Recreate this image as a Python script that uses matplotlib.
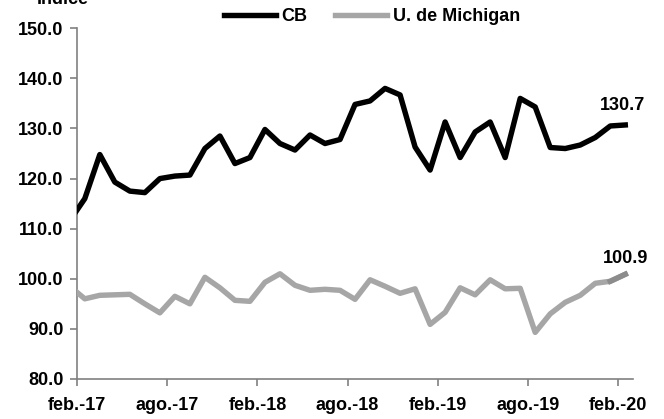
import matplotlib.pyplot as plt
import numpy as np

# monthly values, jan-17 .. feb-20 (jan-17 sits just left of the axis)
months = ['ene.-17', 'feb.-17', 'mar.-17', 'abr.-17', 'may.-17', 'jun.-17', 'jul.-17', 'ago.-17',
          'sep.-17', 'oct.-17', 'nov.-17', 'dic.-17', 'ene.-18', 'feb.-18', 'mar.-18', 'abr.-18',
          'may.-18', 'jun.-18', 'jul.-18', 'ago.-18', 'sep.-18', 'oct.-18', 'nov.-18', 'dic.-18',
          'ene.-19', 'feb.-19', 'mar.-19', 'abr.-19', 'may.-19', 'jun.-19', 'jul.-19', 'ago.-19',
          'sep.-19', 'oct.-19', 'nov.-19', 'dic.-19', 'ene.-20', 'feb.-20']
cb = [111.6, 116.0, 124.8, 119.3, 117.5, 117.2, 120.0, 120.5, 120.7, 126.0, 128.5, 123.0, 124.2,
      129.8, 127.0, 125.7, 128.7, 127.0, 127.8, 134.8, 135.5, 138.0, 136.7, 126.3, 121.7, 131.3,
      124.2, 129.3, 131.3, 124.2, 136.0, 134.3, 126.2, 126.0, 126.7, 128.2, 130.5, 130.7]
umich = [98.5, 96.0, 96.7, 96.8, 96.9, 95.0, 93.2, 96.5, 95.0, 100.3, 98.2, 95.7, 95.5,
         99.3, 101.0, 98.7, 97.7, 97.9, 97.7, 95.9, 99.8, 98.5, 97.1, 98.0, 90.9, 93.3,
         98.2, 96.8, 99.8, 98.0, 98.1, 89.3, 93.0, 95.3, 96.7, 99.1, 99.5, 100.9]
tick_labels = ['feb.-17', 'ago.-17', 'feb.-18', 'ago.-18', 'feb.-19', 'ago.-19', 'feb.-20']

plt.rcParams['font.family'] = ['Liberation Sans Narrow', 'Liberation Sans', 'DejaVu Sans']
plt.rcParams['font.weight'] = 'bold'
fs = 13

x = np.arange(len(months)) - 0.5   # points centred in their month

fig = plt.figure(figsize=(6.64, 4.19), dpi=100)
ax = fig.add_axes([0.1164, 0.0955, 0.8366, 0.837])

ax.plot(x, cb, color='black', lw=3.9, label='CB', zorder=3)
ax.plot(x, umich, color='#a6a6a6', lw=3.9, label='U. de Michigan', zorder=3)
ax.plot(x[-2:], umich[-2:], color='#8c8c8c', lw=3.9, zorder=4)

ax.set_xlim(0, 37)
ax.set_ylim(80, 150)
ax.set_yticks(np.arange(80, 151, 10))
ax.set_yticklabels(['%.1f' % v for v in np.arange(80, 151, 10)])
ax.set_xticks(np.arange(0, 37, 6))
ax.set_xticklabels(tick_labels)

for side in ['top', 'right']:
    ax.spines[side].set_visible(False)
for side in ['left', 'bottom']:
    ax.spines[side].set_color('#808080')
    ax.spines[side].set_linewidth(1.2)
ax.tick_params(axis='both', colors='#808080', labelcolor='black', labelsize=fs,
               length=5, width=1.2, direction='out')
ax.tick_params(axis='x', pad=8)
ax.tick_params(axis='y', pad=5)

ax.annotate('%.1f' % cb[-1], (x[-1], cb[-1]), xytext=(-2, 8), textcoords='offset points',
            ha='center', va='bottom', fontsize=fs, fontweight='bold')
ax.annotate('%.1f' % umich[-1], (x[-1], umich[-1]), xytext=(0, 5), textcoords='offset points',
            ha='center', va='bottom', fontsize=fs, fontweight='bold')

fig.text(0.055, 1.0, 'Índice', ha='left', va='center', fontsize=fs, fontweight='bold')

fig.legend(loc='center', bbox_to_anchor=(0.56, 0.96), ncol=2, frameon=False,
           fontsize=fs, handlelength=2.9, handletextpad=0.3, columnspacing=1.5)

fig.savefig('out.png', dpi=100)
